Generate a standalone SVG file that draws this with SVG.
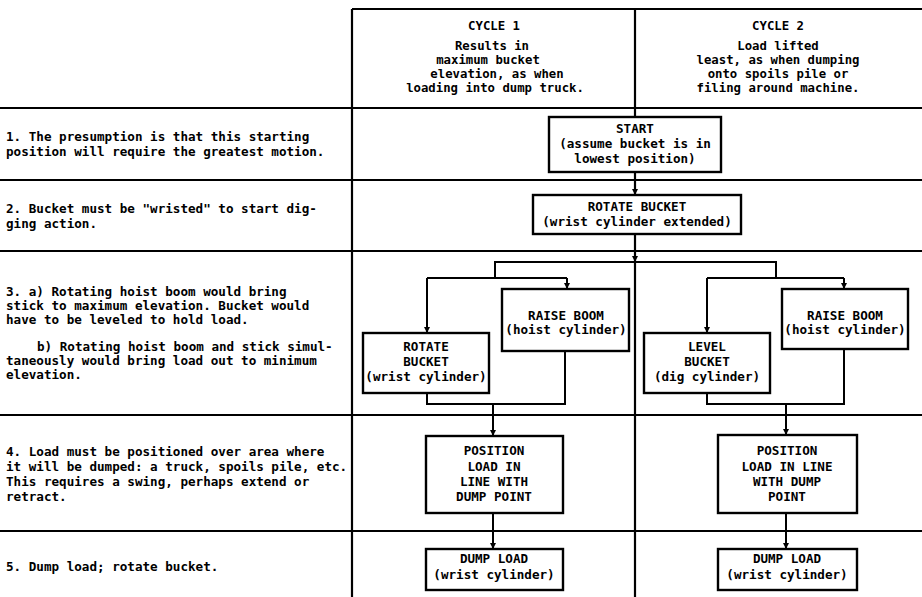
<svg xmlns="http://www.w3.org/2000/svg" width="922" height="597" viewBox="0 0 922 597">
<defs>
<style>
text{font-family:"DejaVu Sans Mono","Liberation Mono",monospace;font-size:12.6px;fill:#000;font-weight:bold}
.c{text-anchor:middle}
.h{font-size:12.3px}
.tl{stroke:#000;stroke-width:2.2;fill:none}
.bx{stroke:#000;stroke-width:2.4;fill:#fff}
.cn{stroke:#000;stroke-width:2;fill:none}
</style>
<marker id="ah" viewBox="0 0 10 10" refX="10" refY="5" markerWidth="7" markerHeight="6" markerUnits="userSpaceOnUse" orient="auto">
<path d="M0,0 L10,5 L0,10 z" fill="#000"/>
</marker>
</defs>
<rect width="922" height="597" fill="#fff"/>
<g id="table">
<line class="tl" x1="352" y1="9" x2="922" y2="9"/>
<line class="tl" x1="352" y1="9" x2="352" y2="597"/>
<line class="tl" x1="635" y1="9" x2="635" y2="597"/>
<line class="tl" x1="0" y1="108" x2="922" y2="108"/>
<line class="tl" x1="0" y1="180" x2="922" y2="180"/>
<line class="tl" x1="0" y1="251" x2="922" y2="251"/>
<line class="tl" x1="0" y1="415" x2="922" y2="415"/>
<line class="tl" x1="0" y1="531" x2="922" y2="531"/>
</g>
<g id="header">
<text class="c h" x="494" y="30">CYCLE 1</text>
<text class="c h" x="492" y="50">Results in</text>
<text class="c h" x="488" y="64">maximum bucket</text>
<text class="c h" x="497" y="78">elevation, as when</text>
<text class="c h" x="495" y="92">loading into dump truck.</text>
<text class="c h" x="778" y="30">CYCLE 2</text>
<text class="c h" x="778" y="50">Load lifted</text>
<text class="c h" x="778" y="64">least, as when dumping</text>
<text class="c h" x="778" y="78">onto spoils pile or</text>
<text class="c h" x="778" y="92">filing around machine.</text>
</g>
<g id="steps">
<text x="6" y="141">1. The presumption is that this starting</text>
<text x="6" y="156">position will require the greatest motion.</text>
<text x="6" y="213">2. Bucket must be "wristed" to start dig-</text>
<text x="6" y="228">ging action.</text>
<text x="6" y="296">3. a) Rotating hoist boom would bring</text>
<text x="6" y="310">stick to maximum elevation. Bucket would</text>
<text x="6" y="324">have to be leveled to hold load.</text>
<text x="37" y="351">b) Rotating hoist boom and stick simul-</text>
<text x="6" y="365">taneously would bring load out to minimum</text>
<text x="6" y="379">elevation.</text>
<text x="6" y="456">4. Load must be positioned over area where</text>
<text x="6" y="471">it will be dumped: a truck, spoils pile, etc.</text>
<text x="6" y="486">This requires a swing, perhaps extend or</text>
<text x="6" y="501">retract.</text>
<text x="6" y="571">5. Dump load; rotate bucket.</text>
</g>
<g id="connectors">
<line class="cn" x1="635" y1="172" x2="635" y2="195" marker-end="url(#ah)"/>
<line class="cn" x1="635" y1="234" x2="635" y2="262" marker-end="url(#ah)"/>
<polyline class="cn" points="495,278 495,262 776,262 776,278"/>
<line class="cn" x1="427" y1="278" x2="567" y2="278"/>
<line class="cn" x1="427" y1="278" x2="427" y2="333" marker-end="url(#ah)"/>
<line class="cn" x1="567" y1="278" x2="567" y2="289" marker-end="url(#ah)"/>
<line class="cn" x1="707" y1="278" x2="844" y2="278"/>
<line class="cn" x1="707" y1="278" x2="707" y2="333" marker-end="url(#ah)"/>
<line class="cn" x1="844" y1="278" x2="844" y2="289" marker-end="url(#ah)"/>
<polyline class="cn" points="427,393 427,404 565,404 565,351"/>
<line class="cn" x1="493" y1="404" x2="493" y2="436" marker-end="url(#ah)"/>
<polyline class="cn" points="707,393 707,404 844,404 844,349"/>
<line class="cn" x1="786" y1="404" x2="786" y2="435" marker-end="url(#ah)"/>
<line class="cn" x1="493" y1="513" x2="493" y2="549" marker-end="url(#ah)"/>
<line class="cn" x1="786" y1="513" x2="786" y2="549" marker-end="url(#ah)"/>
</g>
<g id="start">
<rect class="bx" x="549" y="117" width="172" height="55"/>
<text class="c" x="635" y="133">START</text>
<text class="c" x="635" y="148">(assume bucket is in</text>
<text class="c" x="635" y="163">lowest position)</text>
</g>
<g id="rotate-bucket">
<rect class="bx" x="533" y="195" width="208" height="39"/>
<text class="c" x="637" y="211">ROTATE BUCKET</text>
<text class="c" x="637" y="226">(wrist cylinder extended)</text>
</g>
<g id="c1-rotate-bucket">
<rect class="bx" x="363" y="333" width="126" height="60"/>
<text class="c" x="426" y="351">ROTATE</text>
<text class="c" x="426" y="366">BUCKET</text>
<text class="c" x="426" y="381">(wrist cylinder)</text>
</g>
<g id="c1-raise-boom">
<rect class="bx" x="502" y="289" width="127" height="62"/>
<text class="c" x="566" y="320">RAISE BOOM</text>
<text class="c" x="566" y="334">(hoist cylinder)</text>
</g>
<g id="c2-level-bucket">
<rect class="bx" x="644" y="333" width="126" height="60"/>
<text class="c" x="707" y="351">LEVEL</text>
<text class="c" x="707" y="366">BUCKET</text>
<text class="c" x="707" y="381">(dig cylinder)</text>
</g>
<g id="c2-raise-boom">
<rect class="bx" x="782" y="289" width="126" height="60"/>
<text class="c" x="845" y="320">RAISE BOOM</text>
<text class="c" x="845" y="334">(hoist cylinder)</text>
</g>
<g id="c1-position">
<rect class="bx" x="426" y="436" width="137" height="77"/>
<text class="c" x="494" y="455">POSITION</text>
<text class="c" x="494" y="471">LOAD IN</text>
<text class="c" x="494" y="486">LINE WITH</text>
<text class="c" x="494" y="501">DUMP POINT</text>
</g>
<g id="c2-position">
<rect class="bx" x="718" y="435" width="139" height="78"/>
<text class="c" x="787" y="455">POSITION</text>
<text class="c" x="787" y="471">LOAD IN LINE</text>
<text class="c" x="787" y="486">WITH DUMP</text>
<text class="c" x="787" y="501">POINT</text>
</g>
<g id="c1-dump">
<rect class="bx" x="426" y="549" width="137" height="41"/>
<text class="c" x="494" y="563">DUMP LOAD</text>
<text class="c" x="494" y="579">(wrist cylinder)</text>
</g>
<g id="c2-dump">
<rect class="bx" x="718" y="549" width="139" height="41"/>
<text class="c" x="787" y="563">DUMP LOAD</text>
<text class="c" x="787" y="579">(wrist cylinder)</text>
</g>
</svg>
